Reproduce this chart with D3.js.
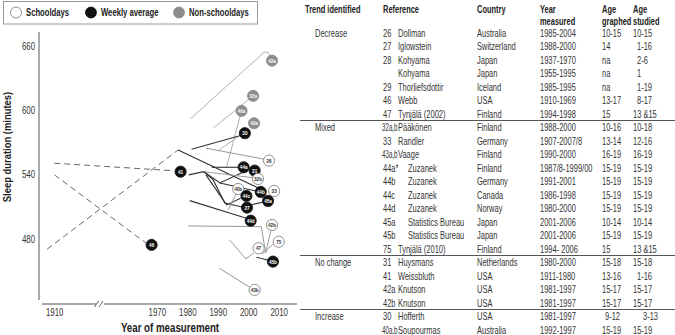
<!DOCTYPE html>
<html>
<head>
<meta charset="utf-8">
<script src="https://cdn.jsdelivr.net/npm/d3@7"></script>
<style>
  body { margin: 0; background: #fff; }
  svg text { font-family: "Liberation Sans", Arial, sans-serif; }
</style>
</head>
<body>
<svg id="chart" width="675" height="335"></svg>
<script>
// legend
const legendLabels = ["Schooldays", "Weekly average", "Non-schooldays"];
const legendKinds = ["school", "weekly", "nonschool"];

// axis ticks
const xTicks = [1910, 1970, 1980, 1990, 2000, 2010];
const yTicks = [480, 540, 600, 660];

// labelled end points (year, minutes)
const pointLabels  = ["42a", "32a", "40a", "43a", "30", "26", "41", "44a", "31", "32b", "40b", "44b", "33", "44c", "45a", "27", "44d", "42b", "75", "47", "45b", "43b", "46"];
const pointKinds   = ["nonschool", "nonschool", "nonschool", "nonschool", "weekly", "school", "weekly", "weekly", "weekly", "school", "school", "weekly", "school", "weekly", "weekly", "weekly", "weekly", "school", "school", "school", "weekly", "school", "weekly"];
const pointYears   = [2007.8, 2001.6, 1997.8, 2001.9, 1998.9, 2006.8, 1977.8, 1998.5, 2002.1, 2003.2, 1996.7, 2004.1, 2008.5, 1999.4, 2006.5, 1999.6, 2000.8, 2007.8, 2010.0, 2003.4, 2008.1, 2002.1, 1968.3];
const pointMinutes = [646.3, 613.4, 599.4, 587.9, 578.6, 553.0, 542.7, 546.8, 543.7, 535.9, 526.6, 523.8, 524.7, 520.1, 515.4, 509.2, 497.0, 493.0, 477.4, 471.3, 458.8, 432.4, 474.4];

// trend lines: kind and vertices [year, minutes]
const lineKinds  = ["nonschool", "nonschool", "nonschool", "nonschool", "weekly", "school", "dash", "dash", "dash", "weekly", "weekly", "weekly", "school", "weekly", "weekly", "weekly", "weekly", "school", "weekly", "school", "school", "school", "weekly", "school"];
const linePoints = [
  [[1981.0, 591.9], [2005.2, 654.1], [2006.5, 654.1], [2007.8, 646.3]],
  [[1988.7, 583.8], [2001.6, 613.4]],
  [[1992.9, 547.4], [1997.8, 599.4]],
  [[1990.1, 562.3], [1998.3, 578.6]],
  [[1981.4, 563.6], [1997.2, 576.3]],
  [[1986.1, 564.6], [2005.4, 554.3]],
  [[1910.0, 550.6], [1974.8, 543.7]],
  [[1910.1, 539.7], [1966.4, 476.2]],
  [[1907.7, 470.4], [1977.0, 563.0]],
  [[1977.0, 563.0], [2005.4, 524.7]],
  [[1980.5, 539.7], [1985.4, 542.7], [1990.7, 532.2], [1999.5, 543.7]],
  [[1988.0, 546.8], [1997.0, 546.8]],
  [[1985.4, 542.7], [2002.0, 536.9]],
  [[1985.4, 542.7], [1988.5, 535.0], [1992.3, 513.5], [1998.0, 509.8]],
  [[1986.1, 539.7], [1992.9, 511.7], [1997.5, 518.0]],
  [[1990.7, 532.2], [2002.8, 524.5]],
  [[2000.8, 511.7], [2005.0, 514.5]],
  [[1993.4, 507.0], [1996.1, 522.6]],
  [[1980.8, 515.7], [1999.4, 499.3]],
  [[1980.2, 492.1], [2004.3, 491.4], [2005.7, 466.9], [2007.4, 487.4]],
  [[1993.9, 479.0], [1999.2, 461.3], [2001.8, 466.9]],
  [[2004.5, 466.0], [2008.7, 476.2]],
  [[2002.7, 462.9], [2007.0, 459.8]],
  [[1990.5, 452.6], [2001.0, 434.0]]
];

// table
const tableHeads  = ["Trend identified", "Reference", "Country", "Year|measured", "Age|graphed", "Age|studied"];
const trendGroups = ["Decrease", "", "", "", "", "", "", "Mixed", "", "", "", "", "", "", "", "", "", "No change", "", "", "", "Increase", ""];
const refNums     = ["26", "27", "28", "", "29", "46", "47", "32a,b", "33", "43a,b", "44a*", "44b", "44c", "44d", "45a", "45b", "75", "31", "41", "42a", "42b", "30", "40a,b"];
const refNames    = ["Dollman", "Iglowstein", "Kohyama", "Kohyama", "Thorliefsdottir", "Webb", "Tynjälä (2002)", "Pääkönen", "Randler", "Vaage", "Zuzanek", "Zuzanek", "Zuzanek", "Zuzanek", "Statistics Bureau", "Statistics Bureau", "Tynjälä (2010)", "Huysmans", "Weissbluth", "Knutson", "Knutson", "Hofferth", "Soupourmas"];
const countries   = ["Australia", "Switzerland", "Japan", "Japan", "Iceland", "USA", "Finland", "Finland", "Germany", "Finland", "Finland", "Germany", "Canada", "Norway", "Japan", "Japan", "Finland", "Netherlands", "USA", "USA", "USA", "USA", "Australia"];
const yearsMeasured = ["1985-2004", "1988-2000", "1937-1970", "1955-1995", "1985-1995", "1910-1969", "1994-1998", "1988-2000", "1907-2007/8", "1990-2000", "1987/8-1999/00", "1991-2001", "1986-1998", "1980-2000", "2001-2006", "2001-2006", "1994- 2006", "1980-2000", "1911-1980", "1981-1997", "1981-1997", "1981-1997", "1992-1997"];
const ageGraphed  = ["10-15", "14", "na", "na", "na", "13-17", "15", "10-16", "13-14", "16-19", "15-19", "15-19", "15-19", "15-19", "10-14", "15-19", "15", "15-18", "13-16", "15-17", "15-17", "9-12", "15-19"];
const ageStudied  = ["10-15", "1-16", "2-6", "1", "1-19", "8-17", "13 &15", "10-18", "12-16", "16-19", "15-19", "15-19", "15-19", "15-19", "10-14", "15-19", "13 &15", "15-18", "1-16", "15-17", "15-17", "3-13", "15-19"];

const svg = d3.select("#chart");

const fills   = { school: "#fff", weekly: "#111", nonschool: "#8c8c8c" };
const strokes = { school: "#9a9a9a", weekly: "#333", nonschool: "#b0b0b0", dash: "#666" };

// no narrow font installed: squeeze Arial-like text horizontally
function ntext(g, tx, ty, t, size, bold, color, sx) {
  return g.append("text")
    .attr("transform", `translate(${tx},${ty}) scale(${sx || 0.75},1)`)
    .style("font-size", size + "px")
    .style("font-weight", bold ? "bold" : "normal")
    .attr("fill", color || "#333")
    .text(t);
}

const x = d3.scaleLinear().domain([1906, 1925, 1953, 2016]).range([42, 100, 105, 297]);
const y = d3.scaleLinear().domain([423, 673]).range([300, 32]);

// axes lines
svg.append("line").attr("x1", 39).attr("x2", 39).attr("y1", y(673)).attr("y2", y(423))
  .attr("stroke", "#aaa").attr("stroke-width", 2);
svg.append("line").attr("x1", x(1906)).attr("x2", 96).attr("y1", 304).attr("y2", 304)
  .attr("stroke", "#aaa").attr("stroke-width", 2);
svg.append("line").attr("x1", 104).attr("x2", x(2016)).attr("y1", 304).attr("y2", 304)
  .attr("stroke", "#aaa").attr("stroke-width", 2);
[96.5, 101].forEach(bx => {
  svg.append("line").attr("x1", bx - 2).attr("x2", bx + 2).attr("y1", 307).attr("y2", 301)
    .attr("stroke", "#666").attr("stroke-width", 1);
});

const yAxis = svg.append("g").attr("transform", "translate(39,0)")
  .call(d3.axisLeft(y).tickValues(yTicks).tickSize(0).tickPadding(5));
yAxis.select(".domain").remove();
yAxis.selectAll("text").style("font-size", "10px").attr("fill", "#333")
  .attr("transform", "scale(0.79,1)");

const xAxis = svg.append("g").attr("transform", "translate(0,304)")
  .call(d3.axisBottom(x).tickValues(xTicks).tickSize(0).tickPadding(5).tickFormat(d3.format("d")));
xAxis.select(".domain").remove();
xAxis.selectAll("text").style("font-size", "10px").attr("fill", "#333")
  .attr("transform", "scale(0.79,1)");

svg.append("text").attr("transform", "translate(11,147) rotate(-90) scale(0.82,1)")
  .attr("text-anchor", "middle").style("font-size", "11.5px").style("font-weight", "bold")
  .attr("fill", "#222").text("Sleep duration (minutes)");
ntext(svg, 170, 332, "Year of measurement", 12, true, "#222", 0.81).attr("text-anchor", "middle");

// trend lines
const line = d3.line().x(d => x(d[0])).y(d => y(d[1]));
svg.append("g").selectAll("path")
  .data(linePoints)
  .enter()
  .append("path")
  .attr("d", line)
  .attr("fill", "none")
  .attr("stroke", (d, i) => strokes[lineKinds[i]])
  .attr("stroke-width", (d, i) => lineKinds[i] === "weekly" ? 1.1 : 1)
  .attr("stroke-dasharray", (d, i) => lineKinds[i] === "dash" ? "6,4" : null);

// labelled circles
const pts = svg.append("g").selectAll("g")
  .data(pointLabels)
  .enter()
  .append("g")
  .attr("transform", (d, i) => `translate(${x(pointYears[i])},${y(pointMinutes[i])})`);
pts.append("circle").attr("r", 5.6)
  .attr("fill", (d, i) => fills[pointKinds[i]])
  .attr("stroke", (d, i) => pointKinds[i] === "school" ? "#777" : fills[pointKinds[i]])
  .attr("stroke-width", 0.8);
pts.append("text").attr("text-anchor", "middle").attr("dy", "0.35em")
  .attr("transform", "scale(0.8,1)")
  .style("font-size", "5.8px").style("font-weight", "bold")
  .attr("fill", (d, i) => pointKinds[i] === "school" ? "#333" : "#fff")
  .text(d => d);

// legend
svg.append("rect").attr("x", 3.5).attr("y", 1.5).attr("width", 254).attr("height", 22.5)
  .attr("fill", "#fff").attr("stroke", "#999");
const legX = [16, 91, 179];
legendLabels.forEach((lab, i) => {
  const k = legendKinds[i];
  svg.append("circle").attr("cx", legX[i]).attr("cy", 12.5).attr("r", 5.5)
    .attr("fill", fills[k]).attr("stroke", k === "school" ? "#777" : fills[k]).attr("stroke-width", 0.8);
  ntext(svg, legX[i] + 10, 16, lab, 10, true, "#222", 0.77);
});

// table
const tb = svg.append("g");
const headX = [305, 383, 477, 540, 602, 633];
tableHeads.forEach((h, i) => {
  h.split("|").forEach((part, j) => {
    ntext(tb, headX[i], 13 + j * 12, part, 10.5, true, "#222", 0.71);
  });
});
const rowY = i => 36.5 + i * 13.5;
refNames.forEach((name, i) => {
  const ty = rowY(i);
  ntext(tb, 315, ty, trendGroups[i], 10);
  const r = refNums[i];
  const multi = r.includes(",");
  ntext(tb, multi ? 382 : 383, ty, r, 10, false, "#333", multi ? 0.62 : 0.75);
  ntext(tb, /^4[45]/.test(r) ? 408 : 398, ty, name, 10);
  ntext(tb, 477, ty, countries[i], 10);
  ntext(tb, 540, ty, yearsMeasured[i], 10);
  ntext(tb, ageGraphed[i] === "9-12" ? 605 : 602, ty, ageGraphed[i], 10);
  const s = ageStudied[i];
  ntext(tb, s === "3-13" ? 643 : (/^\d-/.test(s) || s === "1") ? 637 : 633, ty, s, 10);
});
[120.5, 255.5, 309.5].forEach(ly => {
  tb.append("line").attr("x1", 300).attr("x2", 675).attr("y1", ly).attr("y2", ly)
    .attr("stroke", "#555").attr("stroke-width", 1);
});
</script>
</body>
</html>
